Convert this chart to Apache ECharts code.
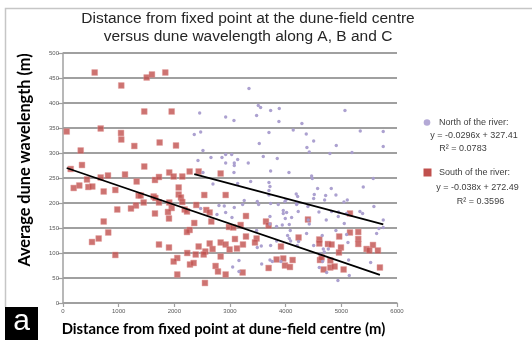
<!DOCTYPE html>
<html>
<head>
<meta charset="utf-8">
<script src="https://cdn.jsdelivr.net/npm/echarts@6/dist/echarts.min.js"></script>
<style>
  html, body { margin: 0; padding: 0; background: #fff; }
  #chart { width: 532px; height: 340px; }
</style>
</head>
<body>
<div id="chart"></div>
<script>
// Dune wavelength (m) against distance (m) from the fixed point, north bank
const northPoints = [
  [2455,380],[2922,372],[2358,337],[2473,342],[2514,305],[2425,285],[2658,291],[2856,291],
  [2922,297],[2922,280],[2514,261],[2694,238],[2473,189],[2802,195],[2897,194],[2766,177],
  [3341,429],[3508,395],[3550,391],[3730,385],[3885,389],[5065,385],[3071,365],[3478,375],
  [3879,363],[4292,359],[3700,341],[4136,346],[4370,338],[5340,344],[5753,343],[3526,319],
  [4503,324],[4909,315],[5753,313],[4382,311],[4424,302],[4795,299],[5191,301],[3030,297],
  [3138,287],[3598,293],[3849,289],[3077,280],[3077,275],[3328,280],[3071,261],[3730,264],
  [4059,261],[5753,166],[5753,151],[4466,254],[4478,249],[3371,243],[3138,239],[3700,241],
  [3700,225],[3700,216],[3718,233],[4574,229],[4819,229],[5394,232],[5573,249],[4190,218],
  [4215,213],[4203,199],[4514,217],[4503,209],[4718,215],[4903,216],[4700,206],[5047,202],
  [5107,206],[3077,191],[3227,197],[3256,205],[3490,203],[3514,197],[3730,199],[3867,197],
  [3987,203],[4005,206],[4196,197],[4400,193],[5585,193],[3957,185],[3957,179],[4017,181],
  [4226,183],[4598,182],[4951,182],[4825,183],[5095,179],[5334,183],[5382,179],[2922,181],
  [3035,171],[3718,173],[3993,169],[4107,171],[4406,166],[4424,158],[4945,173],[5053,159],
  [4729,166],[3718,158],[3837,153],[3939,156],[4065,157],[4083,145],[3478,145],[4376,139],
  [4657,135],[4903,145],[5095,137],[4035,135],[4065,129],[4089,124],[3562,114],[3730,115],
  [3837,124],[4232,123],[5119,121],[4208,115],[4503,115],[4676,108],[4694,102],[4766,108],
  [3490,111],[5675,149],[5634,139],[4616,98],[5527,81],[3161,85],[3718,86],[3760,83],
  [3915,83],[3048,72],[3569,78],[4664,83],[4604,71],[4736,61],[3161,63],[5143,55],
  [4939,45],[5131,86]
];

// South bank
const southPoints = [
  [569,461],[1503,451],[1598,457],[1838,461],[1047,435],[1460,383],[1952,383],[66,343],
  [677,349],[1042,340],[1047,327],[1281,314],[1736,321],[2030,315],[318,305],[341,276],
  [138,268],[1460,273],[1909,261],[2275,263],[2437,263],[2832,259],[808,255],[1114,257],
  [192,230],[293,235],[431,247],[455,232],[527,233],[677,251],[731,223],[940,226],
  [1323,243],[1359,215],[1395,215],[1449,201],[1311,195],[1221,189],[975,187],[731,163],
  [813,141],[641,129],[521,122],[940,96],[1652,246],[1724,252],[1988,253],[2143,253],
  [2078,231],[2078,217],[2119,211],[2143,202],[1629,213],[1659,210],[1724,201],[1909,201],
  [1952,190],[1886,182],[1652,179],[1904,169],[2186,187],[2227,183],[2394,196],[2538,216],
  [2574,186],[2635,181],[2664,163],[2922,216],[2981,152],[2358,160],[2275,146],[2227,142],
  [1724,117],[1904,111],[2232,100],[2437,113],[2635,119],[2687,108],[2832,121],[2922,117],
  [2993,107],[2556,103],[2527,97],[2384,97],[2832,93],[2053,90],[1988,83],[2281,77],
  [2347,80],[2741,74],[2784,63],[2922,57],[2053,57],[2550,40],[5155,179],[3287,174],
  [3646,163],[3694,155],[3059,151],[3191,156],[3287,133],[3089,128],[3478,129],[3448,121],
  [3233,117],[3125,109],[4232,131],[3915,113],[4604,127],[4604,119],[4759,118],[4825,117],
  [4962,133],[5155,141],[5304,142],[5304,128],[5304,118],[4993,111],[4957,101],[5568,116],
  [5454,108],[5502,105],[5657,105],[3837,87],[3957,89],[4125,86],[3987,75],[4077,72],
  [3694,70],[4616,86],[4646,91],[4802,85],[4802,71],[4880,73],[4682,67],[5041,67],
  [5693,71],[3227,61],[4400,167]
];

// Linear fits quoted in the legend: y = slope * x + intercept
const northFit = { slope: -0.0296, intercept: 327.41, r2: '0.0783' };
const southFit = { slope: -0.038, intercept: 272.49, r2: '0.3596' };

// Axis ranges and tick steps
const xRange = [0, 6000], xStep = 1000;
const yRange = [0, 500], yStep = 50;

const titleLines = [
  'Distance from fixed point at the dune-field centre',
  'versus dune wavelength along A, B and C'
];
const xName = 'Distance from fixed point at dune-field centre (m)';
const yName = 'Average dune wavelength (m)';

function fitLine(points, fit) {
  const xs = points.map(p => p[0]);
  const lo = Math.min(...xs), hi = Math.max(...xs);
  return [[lo, fit.slope * lo + fit.intercept], [hi, fit.slope * hi + fit.intercept]];
}

const GRID_L = 63, GRID_T = 53, GRID_R = 397, GRID_B = 303;
const gray = '#a0a0a0';
const txt = '#262626';
const fontMain = '"Liberation Sans", Arial, sans-serif';
const fontBold = 'Lato, "Open Sans", sans-serif';

const chart = echarts.init(document.getElementById('chart'), null, { renderer: 'canvas' });

chart.setOption({
  animation: false,
  textStyle: { fontFamily: fontMain },
  grid: { left: GRID_L, top: GRID_T, right: 532 - GRID_R, bottom: 340 - GRID_B, containLabel: false },
  xAxis: {
    type: 'value', min: xRange[0], max: xRange[1], interval: xStep,
    axisLine: { show: true, lineStyle: { color: gray, width: 1.5 } },
    axisTick: { show: true, length: 4, lineStyle: { color: gray, width: 1.2 } },
    axisLabel: { fontSize: 6, color: '#595959', margin: 5, formatter: v => String(v) },
    splitLine: { show: false }
  },
  yAxis: {
    type: 'value', min: yRange[0], max: yRange[1], interval: yStep,
    axisLine: { show: true, lineStyle: { color: gray, width: 1.5 } },
    axisTick: { show: true, length: 5, lineStyle: { color: gray, width: 1.2 } },
    axisLabel: { fontSize: 6, color: '#595959', margin: 4, formatter: v => String(v) },
    splitLine: { show: true, lineStyle: { color: gray, width: 1.8 } }
  },
  series: [
    {
      name: 'South of the river', type: 'scatter', data: southPoints,
      symbol: 'rect', symbolSize: 5.8,
      itemStyle: { color: '#c0504d', borderColor: 'rgba(226,150,150,0.55)', borderWidth: 1 },
      z: 3
    },
    {
      name: 'North of the river', type: 'scatter', data: northPoints,
      symbol: 'circle', symbolSize: 3.4,
      itemStyle: { color: '#a89cce', opacity: 0.95 },
      z: 4
    },
    {
      type: 'line', data: fitLine(northPoints, northFit), showSymbol: false, symbol: 'none',
      lineStyle: { color: '#000', width: 1.8 }, z: 5
    },
    {
      type: 'line', data: fitLine(southPoints, southFit), showSymbol: false, symbol: 'none',
      lineStyle: { color: '#000', width: 1.8 }, z: 5
    }
  ],
  graphic: [
    // outer frame
    { type: 'polyline', shape: { points: [[5.5, 307], [5.5, 8.5], [532, 8.5]] },
      style: { stroke: '#c6c6c6', lineWidth: 1.5, fill: null }, silent: true },
    // title
    { type: 'text', x: 248, y: 19, style: { text: titleLines[0], font: '15.5px ' + fontMain, fill: txt, align: 'center', verticalAlign: 'middle' } },
    { type: 'text', x: 248, y: 37, style: { text: titleLines[1], font: '15.5px ' + fontMain, fill: txt, align: 'center', verticalAlign: 'middle' } },
    // axis names
    { type: 'text', x: 25, y: 160, rotation: Math.PI / 2,
      style: { text: yName, font: 'bold 16.3px ' + fontBold, fill: '#000', align: 'center', verticalAlign: 'middle' } },
    { type: 'text', x: 223.5, y: 329,
      style: { text: xName, font: 'bold 14.8px ' + fontBold, fill: '#000', align: 'center', verticalAlign: 'middle' } },
    // panel letter
    { type: 'rect', shape: { x: 5, y: 307, width: 33, height: 33 }, style: { fill: '#000' } },
    { type: 'text', x: 21.5, y: 322, style: { text: 'a', font: '30px ' + fontMain, fill: '#fff', align: 'center', verticalAlign: 'middle' } },
    // legend: north
    { type: 'circle', shape: { cx: 427, cy: 122.5, r: 3.3 }, style: { fill: '#b4a9d6' } },
    { type: 'text', x: 439, y: 122.5, style: { text: 'North of the river:', font: '9px ' + fontMain, fill: '#404040', align: 'left', verticalAlign: 'middle' } },
    { type: 'text', x: 474, y: 136, style: { text: 'y = ' + northFit.slope + 'x + ' + northFit.intercept, font: '9px ' + fontMain, fill: '#404040', align: 'center', verticalAlign: 'middle' } },
    { type: 'text', x: 463, y: 148.5, style: { text: 'R\u00b2 = ' + northFit.r2, font: '9px ' + fontMain, fill: '#404040', align: 'center', verticalAlign: 'middle' } },
    // legend: south
    { type: 'rect', shape: { x: 423.5, y: 168.5, width: 8, height: 8 }, style: { fill: '#c0504d' } },
    { type: 'text', x: 439, y: 173, style: { text: 'South of the river:', font: '9px ' + fontMain, fill: '#404040', align: 'left', verticalAlign: 'middle' } },
    { type: 'text', x: 477.5, y: 188, style: { text: 'y = ' + southFit.slope + 'x + ' + southFit.intercept, font: '9px ' + fontMain, fill: '#404040', align: 'center', verticalAlign: 'middle' } },
    { type: 'text', x: 480.5, y: 201.5, style: { text: 'R\u00b2 = ' + southFit.r2, font: '9px ' + fontMain, fill: '#404040', align: 'center', verticalAlign: 'middle' } }
  ]
});
</script>
</body>
</html>
